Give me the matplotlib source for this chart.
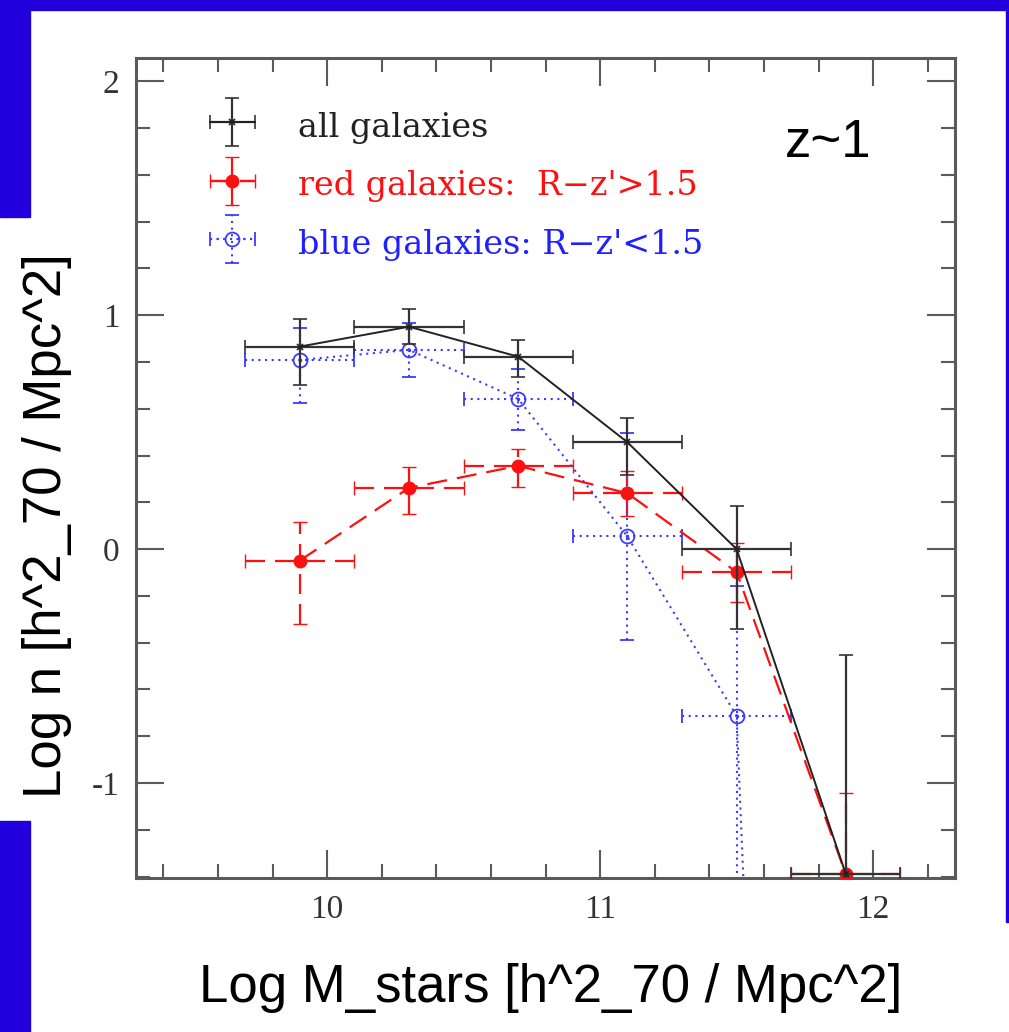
import numpy as np
import matplotlib
matplotlib.use("Agg")
import matplotlib.pyplot as plt
from matplotlib.patches import Rectangle
from matplotlib.ticker import MultipleLocator
from matplotlib.legend_handler import HandlerErrorbar
from matplotlib.container import ErrorbarContainer

plt.rcParams["axes.unicode_minus"] = False

# log stellar mass bin centres and half widths
mass = [9.9, 10.3, 10.7, 11.1, 11.5, 11.9]
mass_halfwidth = [0.2, 0.2, 0.2, 0.2, 0.2, 0.2]

# all galaxies
n_all = [0.866, 0.951, 0.823, 0.457, 0.0, -1.39]
n_all_lo = [0.164, 0.076, 0.085, 0.142, 0.342, 1.0]
n_all_hi = [0.119, 0.076, 0.071, 0.105, 0.185, 0.938]

# red galaxies: R-z' > 1.5
n_red = [-0.049, 0.262, 0.356, 0.239, -0.098, -1.39]
n_red_lo = [0.271, 0.112, 0.091, 0.097, 0.126, 1.0]
n_red_hi = [0.167, 0.088, 0.073, 0.096, 0.126, 0.347]

# blue galaxies: R-z' < 1.5
n_blue = [0.809, 0.852, 0.642, 0.054, -0.712, -12.0]
n_blue_lo = [0.185, 0.114, 0.132, 0.442, 2.0, 1.0]
n_blue_hi = [0.135, 0.114, 0.128, 0.442, 0.555, 1.0]

series_labels = ["all galaxies", "red galaxies:  R\u2212z'>1.5", "blue galaxies: R\u2212z'<1.5"]
x_ticks = [10, 11, 12]
y_ticks = [-1, 0, 1, 2]

BLUE_FRAME = "#2200dd"
AXC = "#5a5a5a"
RED = "#ff1010"
BLUE = "#3b3bff"
DASH = (0, (9, 4.5))
DOT = (0, (1, 2.2))

fig = plt.figure(figsize=(10.09, 10.32), dpi=100)

# slide frame pieces
fig.patches.append(Rectangle((0, 1 - 10 / 1032), 1, 10 / 1032, transform=fig.transFigure, color=BLUE_FRAME, zorder=0))
fig.patches.append(Rectangle((0, 1 - 217 / 1032), 30 / 1009, 217 / 1032, transform=fig.transFigure, color=BLUE_FRAME, zorder=0))
fig.patches.append(Rectangle((0, 0), 30 / 1009, 1 - 821 / 1032, transform=fig.transFigure, color=BLUE_FRAME, zorder=0))
fig.patches.append(Rectangle((1006 / 1009, 1 - 922 / 1032), 3 / 1009, 922 / 1032, transform=fig.transFigure, color=BLUE_FRAME, zorder=0))

ax = fig.add_axes([136 / 1009, 1 - 877.7 / 1032, 819 / 1009, 819.7 / 1032])

black = ax.errorbar(mass, n_all, xerr=mass_halfwidth, yerr=[n_all_lo, n_all_hi],
                    color="#222222", ecolor="#333333", lw=1.4, elinewidth=1.6, capsize=5,
                    marker="x", ms=5, mew=1.2, ls="-", zorder=4)
red = ax.errorbar(mass, n_red, xerr=mass_halfwidth, yerr=[n_red_lo, n_red_hi],
                  color=RED, lw=1.6, elinewidth=1.6, capsize=5,
                  marker="o", ms=9, ls=DASH, zorder=3)
for bar in red[2]:
    bar.set_linestyle(DASH)
blue = ax.errorbar(mass, n_blue, xerr=mass_halfwidth, yerr=[n_blue_lo, n_blue_hi],
                   color=BLUE, lw=1.5, elinewidth=1.5, capsize=5,
                   marker="o", ms=10, mfc="none", mew=1.3, ls=DOT, zorder=3)
for bar in blue[2]:
    bar.set_linestyle(DOT)
# centre dot of the blue symbols
ax.plot(mass, n_blue, ls="none", marker=".", ms=3, color=BLUE, zorder=3)

ax.set_xlim(9.3, 12.3)
ax.set_ylim(-1.405, 2.1)
ax.xaxis.set_minor_locator(MultipleLocator(0.2))
ax.yaxis.set_minor_locator(MultipleLocator(0.2))
ax.set_xticks(x_ticks)
ax.set_yticks(y_ticks)
ax.tick_params(which="both", direction="in", top=True, right=True, color=AXC, width=1.5,
               labelsize=24, labelcolor="#333333")
ax.tick_params(which="major", length=20, pad=12)
ax.tick_params(which="minor", length=10)
for lab in ax.get_xticklabels() + ax.get_yticklabels():
    lab.set_family("Liberation Serif")
for sp in ax.spines.values():
    sp.set_color(AXC)
    sp.set_linewidth(2.2)

leg = ax.legend([black, red, blue], series_labels, loc="upper left", bbox_to_anchor=(0.09, 0.94),
                frameon=False, prop={"family": "DejaVu Serif", "size": 24}, handlelength=1.35,
                handleheight=1.3, handletextpad=1.3, labelspacing=0.67, borderpad=0, borderaxespad=0,
                handler_map={ErrorbarContainer: HandlerErrorbar(xerr_size=0.67, yerr_size=0.72)})
for txt, c in zip(leg.get_texts(), ["#222222", RED, "#2020ff"]):
    txt.set_color(c)

ax.text(0.845, 0.896, "z~1", transform=ax.transAxes, fontsize=38, family="Liberation Sans",
        ha="center", va="center")

fig.text(0.047, 1 - 526 / 1032, "Log n [h^2_70 / Mpc^2]", rotation=90, ha="center", va="center",
         fontsize=38, family="Liberation Sans")
fig.text(551 / 1009, 1 - 988 / 1032, "Log M_stars [h^2_70 / Mpc^2]", ha="center", va="center",
         fontsize=38, family="Liberation Sans")

fig.savefig("out.png", dpi=100)
